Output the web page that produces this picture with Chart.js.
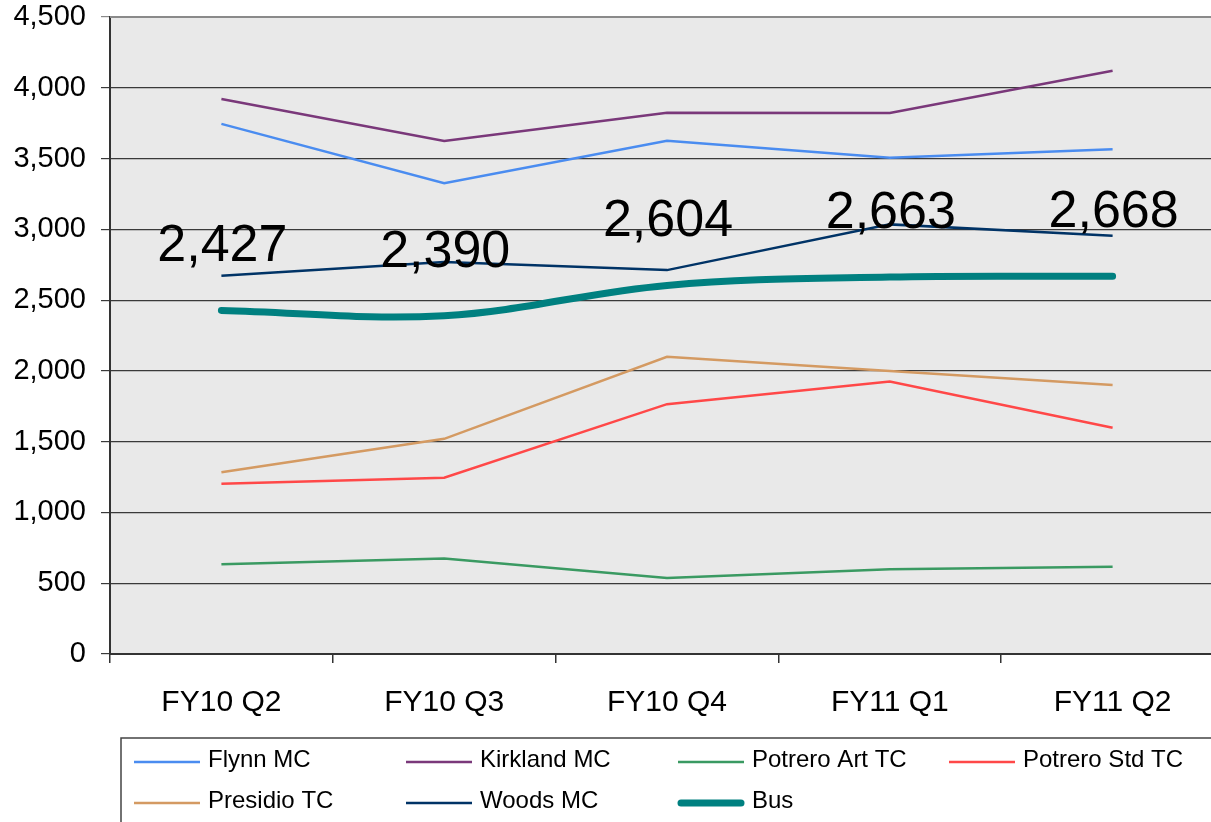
<!DOCTYPE html>
<html>
<head>
<meta charset="utf-8">
<script src="https://cdn.jsdelivr.net/npm/chart.js@4/dist/chart.umd.min.js"></script>
<style>
html,body{margin:0;padding:0;background:#fff;overflow:hidden;width:1211px;height:822px;}
#wrap{position:absolute;left:0;top:0;width:1224px;height:822px;}
</style>
</head>
<body>
<div id="wrap"><canvas id="c" width="1224" height="822"></canvas></div>
<script>
const categories = ["FY10 Q2", "FY10 Q3", "FY10 Q4", "FY11 Q1", "FY11 Q2"];
const flynnMC      = [3745, 3325, 3625, 3505, 3565];
const kirklandMC   = [3921, 3624, 3824, 3822, 4120];
const potreroArtTC = [634, 674, 537, 598, 617];
const potreroStdTC = [1202, 1245, 1765, 1925, 1598];
const presidioTC   = [1284, 1520, 2100, 2000, 1900];
const woodsMC      = [2672, 2770, 2712, 3035, 2955];
const bus          = [2427, 2390, 2604, 2663, 2668];
const yTicks = [0, 500, 1000, 1500, 2000, 2500, 3000, 3500, 4000, 4500];

const FONT = "'Liberation Sans', Arial, sans-serif";
const fmt = v => v.toLocaleString('en-US');

const bgPlugin = {
  id: 'bg',
  beforeDraw(chart) {
    const {ctx, chartArea: a} = chart;
    ctx.save();
    ctx.fillStyle = '#e9e9e9';
    ctx.fillRect(a.left, a.top, a.right - a.left, a.bottom - a.top);
    ctx.restore();
  },
  afterDraw(chart) {
    const {ctx, chartArea: a} = chart;
    ctx.save();
    ctx.strokeStyle = '#8a8a8a';
    ctx.lineWidth = 2;
    ctx.beginPath();
    ctx.moveTo(a.left, a.top);
    ctx.lineTo(a.right, a.top);
    ctx.lineTo(a.right, a.bottom);
    ctx.stroke();
    // legend box
    ctx.strokeStyle = '#444';
    ctx.lineWidth = 1.5;
    ctx.strokeRect(121, 738, 1200, 100);
    const cols = [134, 406, 678, 949];
    const rows = [760, 801];
    ctx.font = '24px ' + FONT;
    ctx.textBaseline = 'middle';
    ctx.textAlign = 'left';
    chart.data.datasets.forEach((ds, i) => {
      const x = cols[i % 4], y = rows[Math.floor(i / 4)];
      ctx.strokeStyle = ds.borderColor;
      ctx.lineWidth = ds.borderWidth;
      ctx.lineCap = ds.borderWidth > 4 ? 'round' : 'butt';
      ctx.beginPath();
      ctx.moveTo(x + (ds.borderWidth > 4 ? 3 : 0), y + 2);
      ctx.lineTo(x + 66 - (ds.borderWidth > 4 ? 3 : 0), y + 2);
      ctx.stroke();
      ctx.fillStyle = '#000';
      ctx.fillText(ds.label, x + 74, y);
    });
    ctx.restore();
  }
};

const labelPlugin = {
  id: 'busLabels',
  afterDatasetsDraw(chart) {
    const idx = chart.data.datasets.findIndex(d => d.label === 'Bus');
    const meta = chart.getDatasetMeta(idx);
    const {ctx} = chart;
    ctx.save();
    ctx.font = '52px ' + FONT;
    ctx.fillStyle = '#000';
    ctx.textAlign = 'center';
    ctx.textBaseline = 'alphabetic';
    meta.data.forEach((pt, i) => {
      ctx.fillText(fmt(bus[i]), pt.x + 1, pt.y - 49);
    });
    ctx.restore();
  }
};

const mk = (label, data, color, width, extra) => Object.assign({
  label, data, borderColor: color, backgroundColor: color, borderWidth: width,
  pointRadius: 0, pointHoverRadius: 0, fill: false, tension: 0
}, extra || {});

new Chart(document.getElementById('c'), {
  type: 'line',
  data: {
    labels: categories,
    datasets: [
      mk('Flynn MC', flynnMC, '#4a8cf0', 2.5),
      mk('Kirkland MC', kirklandMC, '#7a387a', 2.5),
      mk('Potrero Art TC', potreroArtTC, '#3a9a62', 2.5),
      mk('Potrero Std TC', potreroStdTC, '#ff4848', 2.5),
      mk('Presidio TC', presidioTC, '#d49a62', 2.5),
      mk('Woods MC', woodsMC, '#003366', 2.5),
      mk('Bus', bus, '#008080', 7, {tension: 0.36, borderCapStyle: 'round', borderJoinStyle: 'round', order: -1})
    ]
  },
  options: {
    responsive: false,
    animation: false,
    events: [],
    layout: {padding: {left: 0, right: 0, top: 17, bottom: 84}},
    plugins: {legend: {display: false}, tooltip: {enabled: false}},
    scales: {
      x: {
        type: 'category',
        offset: true,
        grid: {offset: true, drawOnChartArea: false, drawTicks: true, tickLength: 9, color: '#333', lineWidth: 1.5},
        border: {color: '#333', width: 2},
        ticks: {color: '#000', font: {family: FONT, size: 30}, padding: 22, maxRotation: 0},
        afterFit: s => { s.height = 84; }
      },
      y: {
        min: 0, max: 4500,
        afterBuildTicks: s => { s.ticks = yTicks.map(v => ({value: v})); },
        grid: {
          color: c => (c.tick && c.tick.value === 4500) ? '#8a8a8a' : '#3a3a3a',
          lineWidth: 1.2, tickLength: 9
        },
        border: {color: '#333', width: 2},
        ticks: {color: '#000', font: {family: FONT, size: 29}, padding: 15, callback: v => fmt(v)},
        afterFit: s => { s.width = 110; s.paddingTop = 0; s.paddingBottom = 0; }
      }
    }
  },
  plugins: [bgPlugin, labelPlugin]
});
</script>
</body>
</html>
